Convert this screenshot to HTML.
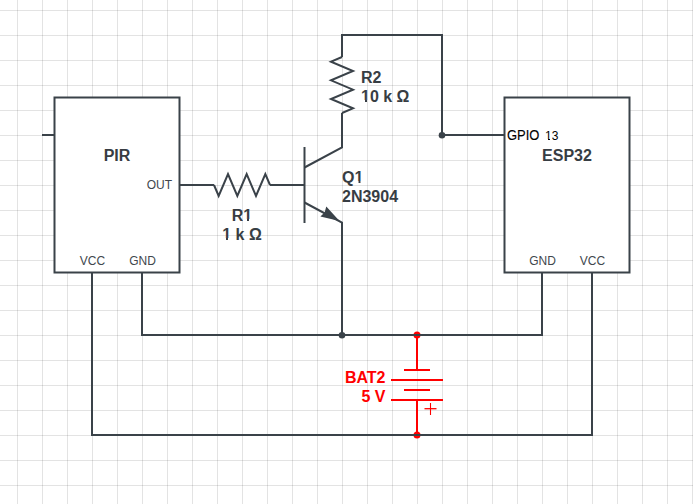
<!DOCTYPE html>
<html><head><meta charset="utf-8"><style>
html,body{margin:0;padding:0;background:#fff;width:693px;height:504px;overflow:hidden}
svg{display:block}
text{font-family:"Liberation Sans",sans-serif}
.b{font-weight:bold;font-size:16px;fill:#373d43}
.s{font-size:12px;fill:#41474d}
</style></head><body>
<svg width="693" height="504" viewBox="0 0 693 504">
<defs>
<clipPath id="c1"><path clip-rule="evenodd" d="M0 0H693V504H0Z M221 238H226V240H221Z M228 238H233V240H228Z"/></clipPath>
<clipPath id="c2"><path clip-rule="evenodd" d="M0 0H693V504H0Z M243 219H247V221H243Z M249 219H253V221H249Z"/></clipPath>
<clipPath id="c3"><path clip-rule="evenodd" d="M0 0H693V504H0Z M354 181H358.5V183H354Z M360.5 181H365V183H360.5Z"/></clipPath>
<clipPath id="c4"><path clip-rule="evenodd" d="M0 0H693V504H0Z M361 100H365V102H361Z M367 100H371V102H367Z"/></clipPath>
<clipPath id="c5"><path clip-rule="evenodd" d="M0 0H693V504H0Z M545 139H548V140H545Z M550 139H552V140H550Z"/></clipPath>
</defs>
<path d="M17.5 0V504M42.5 0V504M67.5 0V504M92.5 0V504M117.5 0V504M142.5 0V504M167.5 0V504M192.5 0V504M217.5 0V504M242.5 0V504M267.5 0V504M292.5 0V504M317.5 0V504M342.5 0V504M367.5 0V504M392.5 0V504M417.5 0V504M442.5 0V504M467.5 0V504M492.5 0V504M517.5 0V504M542.5 0V504M567.5 0V504M592.5 0V504M617.5 0V504M642.5 0V504M667.5 0V504M692.5 0V504M0 10.5H693M0 35.5H693M0 60.5H693M0 85.5H693M0 110.5H693M0 135.5H693M0 160.5H693M0 185.5H693M0 210.5H693M0 235.5H693M0 260.5H693M0 285.5H693M0 310.5H693M0 335.5H693M0 360.5H693M0 385.5H693M0 410.5H693M0 435.5H693M0 460.5H693M0 485.5H693" stroke="#000" stroke-opacity="0.11" stroke-width="1" fill="none"/>
<g stroke="#ff0000" stroke-width="2" fill="none">
<path d="M417 335V370M404 370H430M391 380H443M404 390H430M391 400H443M417 400V435"/>
<path d="M424.5 408.7H436.5" stroke-width="1.3"/><path d="M430.5 403V415" stroke-width="1.1"/>
</g>
<circle cx="417" cy="335" r="3.5" fill="#ff0000"/>
<circle cx="417" cy="435" r="3.5" fill="#ff0000"/>
<g stroke="#3a4249" stroke-width="2" fill="none" stroke-linejoin="miter">
<rect x="54.5" y="97.5" width="125" height="175" fill="#fff"/>
<rect x="504.5" y="97.5" width="125" height="175" fill="#fff"/>
<path d="M42 135H54.5"/>
<path d="M179.5 185H214"/>
<polyline points="214.00,185.00 218.67,196.00 228.00,174.00 237.33,196.00 246.67,174.00 256.00,196.00 265.33,174.00 270.00,185.00"/>
<path d="M270 185H304.5"/>
<path d="M304.5 147V223"/>
<path d="M304.5 167.5L342 147.5V113"/>
<polyline points="342.00,57.00 331.00,61.67 353.00,71.00 331.00,80.33 353.00,89.67 331.00,99.00 353.00,108.33 342.00,113.00"/>
<path d="M342 57V35H442V135H504.5"/>
<path d="M304.5 202.5L342 222.5V335"/>
<path d="M142 272.5V335H542V272.5"/>
<path d="M92 272.5V435H592V272.5"/>
</g>
<path d="M339.5 221L320.4 216.6L324.6 212.6L326.3 206.4Z" fill="#3a4249"/>
<circle cx="442" cy="135.2" r="3.3" fill="#3a4249"/>
<circle cx="342" cy="335.2" r="3.3" fill="#3a4249"/>
<text class="b" x="117" y="161" text-anchor="middle">PIR</text>
<text class="s" x="172" y="189" text-anchor="end">OUT</text>
<text class="s" x="92.5" y="265" text-anchor="middle">VCC</text>
<text class="s" x="142.5" y="265" text-anchor="middle">GND</text>
<text class="s" x="542.5" y="265" text-anchor="middle">GND</text>
<text class="s" x="592.5" y="265" text-anchor="middle">VCC</text>
<text class="b" x="567" y="161" text-anchor="middle">ESP32</text>
<text x="507" y="140" transform="translate(0 140) scale(1 1.07) translate(0 -140)" style="font-size:13px;fill:#000;stroke:#000;stroke-width:0.1">GPIO</text>
<text clip-path="url(#c5)" x="545" y="139.6" style="font-size:12px;fill:#000">13</text>
<text class="b" x="242" y="221" text-anchor="middle" clip-path="url(#c2)">R1</text>
<text class="b" x="242" y="240" text-anchor="middle" clip-path="url(#c1)">1 k Ω</text>
<text class="b" x="342" y="183" clip-path="url(#c3)">Q1</text>
<text class="b" x="342" y="202">2N3904</text>
<text class="b" x="361" y="83">R2</text>
<text class="b" x="361" y="102" clip-path="url(#c4)">10 k Ω</text>
<text class="b" x="385.5" y="383" text-anchor="end" style="fill:#ff0000">BAT2</text>
<text class="b" x="385.5" y="402" text-anchor="end" style="fill:#ff0000">5 V</text>
</svg>
</body></html>
